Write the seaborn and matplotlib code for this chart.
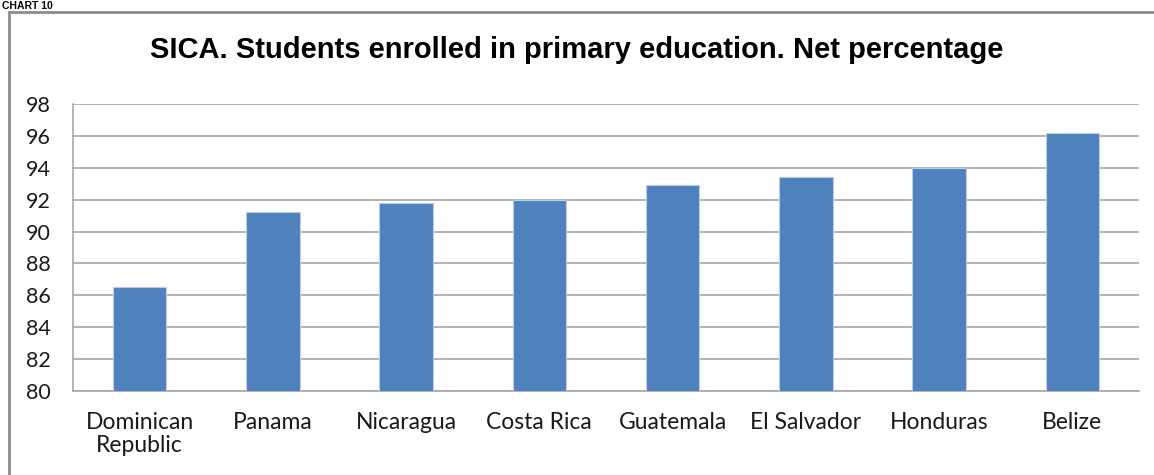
import matplotlib
matplotlib.use("Agg")
import matplotlib.pyplot as plt
import seaborn as sns
import pandas as pd
from matplotlib.patches import Rectangle

countries = ["Dominican\nRepublic", "Panama", "Nicaragua", "Costa Rica",
             "Guatemala", "El Salvador", "Honduras", "Belize"]
net_pct = [86.5, 91.2, 91.8, 92.0, 92.9, 93.4, 94.0, 96.2]
y_ticks = [80, 82, 84, 86, 88, 90, 92, 94, 96, 98]

df = pd.DataFrame({"country": countries, "pct": net_pct})

sns.set_theme(style="white")
plt.rcParams["font.family"] = ["Lato", "DejaVu Sans"]

fig = plt.figure(figsize=(11.54, 4.75), dpi=100)
ax = fig.add_axes([73 / 1154, 1 - 391 / 475, (1139 - 73) / 1154, (391 - 104) / 475])

sns.barplot(data=df, x="country", y="pct", color="#4F81BD", saturation=1,
            width=0.4, edgecolor="#B9CDE5", linewidth=0.8, ax=ax, zorder=3)

ax.set_ylim(80, 98)
ax.set_yticks(y_ticks)
ax.set_xlim(-0.5, len(countries) - 0.5)
ax.grid(axis="y", color="#A6A6A6", linewidth=1.2, zorder=0)
ax.grid(axis="x", visible=False)
for side in ["top", "right"]:
    ax.spines[side].set_visible(False)
for side in ["left", "bottom"]:
    ax.spines[side].set_color("#A6A6A6")
    ax.spines[side].set_linewidth(1.2)
ax.tick_params(axis="y", length=0, pad=16, labelsize=15.5, labelcolor="#1A1A1A")
ax.tick_params(axis="x", length=0, pad=15, labelsize=16.5, labelcolor="#1A1A1A")
ax.set_xlabel("")
ax.set_ylabel("")
for lbl in ax.get_xticklabels():
    lbl.set_linespacing(1.12)

fig.text(0.5, 1 - 50 / 475, "SICA. Students enrolled in primary education. Net percentage",
         ha="center", va="center", fontsize=21, fontweight="bold",
         family=["Liberation Sans", "DejaVu Sans"], color="#000000")

# chart heading above the frame
fig.text(2 / 1154, 1 - 1 / 475, "CHART 10", ha="left", va="top", fontsize=7.5,
         fontweight="bold", family=["Liberation Sans", "DejaVu Sans"], color="#000000")

# outer frame around the chart area
fig.patches.append(Rectangle((9 / 1154, -0.05), 1.2, 0.05 + 1 - 12 / 475,
                             transform=fig.transFigure, fill=False,
                             edgecolor="#8C8C8C", linewidth=2))

fig.savefig("out.png", dpi=100)
